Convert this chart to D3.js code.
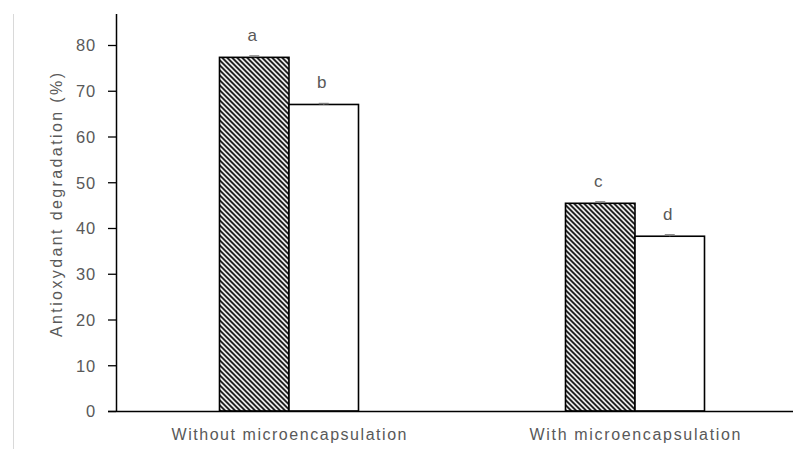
<!DOCTYPE html>
<html>
<head>
<meta charset="utf-8">
<script src="https://cdn.jsdelivr.net/npm/d3@7"></script>
<style>
  html, body { margin: 0; padding: 0; background: #fff; }
  svg { display: block; }
  text { font-family: "Liberation Sans", Arial, sans-serif; fill: #595959; }
</style>
</head>
<body>
<svg id="chart" width="793" height="449"></svg>
<script>
const categories = ["Without microencapsulation", "With microencapsulation"];
const seriesNames = ["Hatched", "Plain"];
const values = [[77.3, 67.0], [45.4, 38.2]];
const errors = [[0.3, 0.2], [0.3, 0.3]];
const letters = [["a", "b"], ["c", "d"]];
const yTicks = [0, 10, 20, 30, 40, 50, 60, 70, 80];
const yLabel = "Antioxydant degradation (%)";

const svg = d3.select("#chart");

const x0 = d3.scaleBand().domain(categories).range([116, 808]).paddingInner(0).paddingOuter(0);
const groupWidth = 139;
const x1 = d3.scaleBand().domain(seriesNames).range([0, groupWidth]).padding(0);
const y = d3.scaleLinear().domain([0, 80]).range([411, 45]);

// hatch pattern
const defs = svg.append("defs");
const pat = defs.append("pattern")
  .attr("id", "hatch").attr("patternUnits", "userSpaceOnUse")
  .attr("width", 5).attr("height", 5);
pat.append("rect").attr("width", 5).attr("height", 5).attr("fill", "#fff");
pat.append("path").attr("d", "M-1,-1 L6,6 M-1,4 L1,6 M4,-1 L6,1")
  .attr("stroke", "#000").attr("stroke-width", 1.7);

// left thin gray border line
svg.append("line").attr("x1", 13.5).attr("x2", 13.5).attr("y1", 14).attr("y2", 449)
  .attr("stroke", "#d9d9d9").attr("stroke-width", 1);

// bars
const groups = svg.append("g").selectAll("g").data(categories).join("g")
  .attr("transform", d => `translate(${x0(d) + x0.bandwidth() / 2 - groupWidth / 2},0)`);

groups.each(function (cat, ci) {
  const g = d3.select(this);
  seriesNames.forEach((s, si) => {
    const v = values[ci][si];
    g.append("rect")
      .attr("x", x1(s)).attr("y", y(v))
      .attr("width", x1.bandwidth()).attr("height", y(0) - y(v))
      .attr("fill", si === 0 ? "url(#hatch)" : "#fff")
      .attr("stroke", "#000").attr("stroke-width", 1.6);
    const cx = x1(s) + x1.bandwidth() / 2;
    const e = errors[ci][si];
    g.append("line").attr("x1", cx - 5).attr("x2", cx + 5)
      .attr("y1", y(v + e)).attr("y2", y(v + e))
      .attr("stroke", "#7f7f7f").attr("stroke-width", 1.5);
    g.append("line").attr("x1", cx).attr("x2", cx)
      .attr("y1", y(v + e)).attr("y2", y(v))
      .attr("stroke", "#7f7f7f").attr("stroke-width", 1.5);
    g.append("text").attr("x", cx - 2).attr("y", y(v) - 16)
      .attr("text-anchor", "middle").attr("font-size", 17)
      .text(letters[ci][si]);
  });
});

// y axis
const yAxis = svg.append("g").attr("transform", "translate(116,0)")
  .call(d3.axisLeft(y).tickValues(yTicks).tickSize(8).tickPadding(12).tickSizeOuter(0));
yAxis.select(".domain").attr("stroke", "#000").attr("stroke-width", 1.5)
  .attr("d", `M0.5,${y(0)}V14`);
yAxis.selectAll(".tick line").attr("stroke", "#000").attr("stroke-width", 1.3);
yAxis.selectAll(".tick text").attr("font-size", 16.5).attr("fill", "#595959")
  .attr("font-family", "Liberation Sans, Arial, sans-serif")
  .attr("letter-spacing", 0.8).attr("dy", "0.36em");

// x axis
const xAxis = svg.append("g").attr("transform", `translate(0,${y(0)})`)
  .call(d3.axisBottom(x0).tickSize(0).tickPadding(0));
xAxis.select(".domain").attr("stroke", "#000").attr("stroke-width", 1.5)
  .attr("d", `M108,0.5H808`);
const catLens = [235, 211];
xAxis.selectAll(".tick text").attr("font-size", 16).attr("fill", "#595959")
  .attr("font-family", "Liberation Sans, Arial, sans-serif")
  .attr("y", 29).attr("dy", 0)
  .attr("textLength", (d, i) => catLens[i]).attr("lengthAdjust", "spacing");

// y label
svg.append("text")
  .attr("transform", `translate(61.5,205) rotate(-90)`)
  .attr("text-anchor", "middle").attr("font-size", 16)
  .attr("textLength", 264).attr("lengthAdjust", "spacing")
  .text(yLabel);
</script>
</body>
</html>
